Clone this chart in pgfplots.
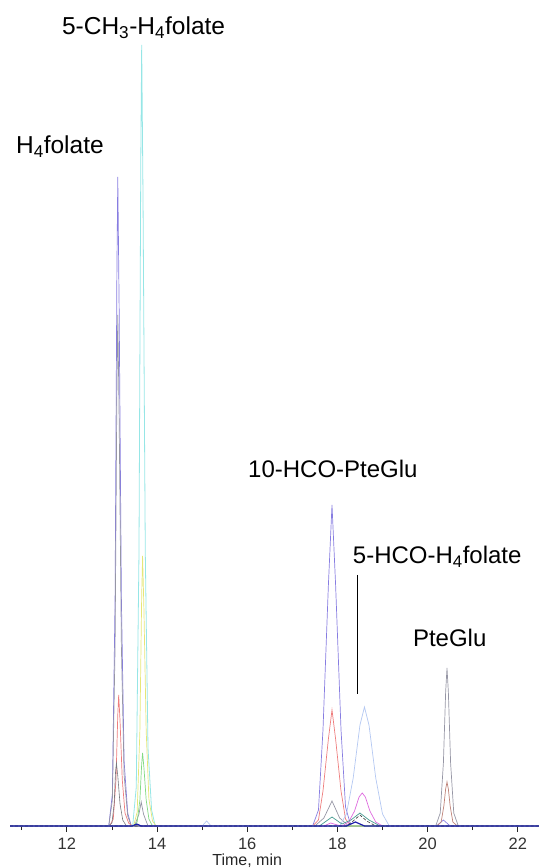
\documentclass[border=0pt]{standalone}
\usepackage{fontspec}
\setmainfont{Liberation Sans}
\usepackage{pgfplots}
\pgfplotsset{compat=1.18}
\definecolor{cviolet}{RGB}{135,125,225}
\definecolor{cgray}{RGB}{150,150,165}
\definecolor{cgray2}{RGB}{120,120,125}
\definecolor{cred}{RGB}{238,125,125}
\definecolor{cbrown}{RGB}{190,130,120}
\definecolor{ccyan}{RGB}{150,230,230}
\definecolor{cyellow}{RGB}{230,230,120}
\definecolor{cgreen}{RGB}{130,218,130}
\definecolor{clblue}{RGB}{180,200,242}
\definecolor{cmag}{RGB}{222,105,222}
\definecolor{cteal}{RGB}{70,155,145}
\definecolor{cdblue}{RGB}{30,30,170}
\definecolor{caxis}{RGB}{20,20,190}
\begin{document}
\begin{tikzpicture}
\useasboundingbox (0,0) rectangle (539bp,868bp);
\begin{axis}[
  at={(10bp,42bp)}, anchor=south west,
  scale only axis, width=529bp, height=826bp,
  xmin=10.74, xmax=22.47, ymin=0, ymax=826,
  axis y line=none, axis x line=bottom,
  x axis line style={draw=caxis, line width=0.9pt, -},
  xtick={12,14,16,18,20,22},
  minor xtick={11,13,15,17,19,21},
  tick align=outside,
  major tick length=6bp, minor tick length=4bp,
  every tick/.style={black!85, line width=0.7pt},
  xticklabel style={font=\fontsize{16.5bp}{16.5bp}\selectfont, text=black!80, anchor=base, yshift=-17bp},
  /pgf/number format/assume math mode=true,
  clip=false,
]
% violet: H4folate, 10-HCO-PteGlu
\addplot[cviolet, line width=0.7pt] coordinates {
(10.74,0) (12.93,0) (13.01,32) (13.07,227) (13.11,552) (13.13,649) (13.16,519) (13.21,227) (13.27,65) (13.35,13) (13.43,0)
(17.45,0) (17.58,16) (17.68,96) (17.80,241) (17.88,321) (17.96,241) (18.08,96) (18.18,19) (18.30,0)
(20.20,0) (20.35,6) (20.50,0) (22.47,0)};
% gray
\addplot[cgray, line width=0.7pt] coordinates {
(10.74,0) (12.93,0) (13.01,26) (13.07,179) (13.11,434) (13.13,511) (13.16,409) (13.21,179) (13.27,51) (13.35,10) (13.43,0)
(13.50,0) (13.60,12) (13.65,24) (13.70,12) (13.80,0)
(17.50,0) (17.70,8) (17.88,25) (18.05,8) (18.25,0)
(20.18,0) (20.28,13) (20.35,63) (20.40,134) (20.43,158) (20.46,134) (20.51,63) (20.58,13) (20.68,0) (22.47,0)};
% red
\addplot[cred, line width=0.7pt] coordinates {
(10.74,0) (12.95,0) (13.03,7) (13.09,46) (13.13,111) (13.15,131) (13.18,105) (13.23,46) (13.29,13) (13.37,3) (13.45,0)
(17.45,0) (17.58,6) (17.68,35) (17.80,87) (17.88,116) (17.96,87) (18.08,35) (18.18,7) (18.30,0) (22.47,0)};
% brown
\addplot[cbrown, line width=0.7pt] coordinates {
(10.74,0) (20.20,0) (20.30,4) (20.36,20) (20.40,37) (20.43,44) (20.46,37) (20.50,20) (20.56,4) (20.66,0) (22.47,0)};
% small gray
\addplot[cgray2, line width=0.6pt] coordinates {
(10.74,0) (12.92,0) (13.00,3) (13.05,22) (13.08,54) (13.10,63) (13.13,50) (13.18,22) (13.24,6) (13.32,0) (22.47,0)};
% cyan: 5-CH3-H4folate
\addplot[ccyan, line width=0.8pt] coordinates {
(10.74,0) (13.46,0) (13.54,39) (13.60,273) (13.64,664) (13.66,781) (13.69,625) (13.74,273) (13.80,78) (13.88,16) (13.96,0) (22.47,0)};
% yellow
\addplot[cyellow, line width=0.7pt] coordinates {
(10.74,0) (13.48,0) (13.56,14) (13.62,95) (13.66,230) (13.68,270) (13.71,216) (13.76,95) (13.82,27) (13.90,5) (13.98,0) (22.47,0)};
% green
\addplot[cgreen, line width=0.7pt] coordinates {
(10.74,0) (13.48,0) (13.56,4) (13.62,26) (13.66,62) (13.68,73) (13.71,58) (13.76,26) (13.82,7) (13.90,0) (22.47,0)};
% light blue: 5-HCO-H4folate
\addplot[clblue, line width=0.7pt] coordinates {
(10.74,0) (15.00,0) (15.10,5) (15.20,0)
(18.05,0) (18.20,12) (18.35,48) (18.50,101) (18.60,119) (18.70,101) (18.85,48) (19.00,12) (19.15,0) (22.47,0)};
% magenta
\addplot[cmag, line width=0.7pt] coordinates {
(10.74,0) (17.70,0) (17.85,3) (18.00,1) (18.10,0) (18.25,4) (18.38,15) (18.48,29) (18.55,33) (18.62,29) (18.72,15) (18.85,4) (19.00,0) (22.47,0)};
% teal
\addplot[cteal, line width=0.7pt] coordinates {
(10.74,0) (17.60,0) (17.88,9) (18.10,2) (18.30,6) (18.50,13) (18.70,6) (18.95,0) (22.47,0)};
% black
\addplot[black!80, line width=0.6pt, densely dashed] coordinates {
(10.74,0) (18.20,0) (18.35,5) (18.50,11) (18.65,5) (18.85,0) (22.47,0)};
% dark blue
\addplot[cdblue, line width=1.2pt] coordinates {
(10.74,0) (13.45,0) (13.55,2) (13.65,0) (18.20,0) (18.40,4) (18.60,0) (22.47,0)};
% labels
\node[anchor=base west, inner sep=0, font=\fontsize{24.5bp}{28bp}\selectfont] at (axis cs:10.87,672) {H\textsubscript{4}folate};
\node[anchor=base west, inner sep=0, font=\fontsize{24.5bp}{28bp}\selectfont] at (axis cs:11.89,791) {5-CH\textsubscript{3}-H\textsubscript{4}folate};
\node[anchor=base, inner sep=0, font=\fontsize{24bp}{28bp}\selectfont] at (axis cs:17.90,348) {10-HCO-PteGlu};
\node[anchor=base west, inner sep=0, font=\fontsize{24bp}{28bp}\selectfont] at (axis cs:18.34,262) {5-HCO-H\textsubscript{4}folate};
\node[anchor=base, inner sep=0, font=\fontsize{24bp}{28bp}\selectfont] at (axis cs:20.49,179) {PteGlu};
\draw[black, line width=1pt] (axis cs:18.45,251) -- (axis cs:18.45,132);
\node[anchor=base, inner sep=0, font=\fontsize{16bp}{16bp}\selectfont, text=black!85] at (axis cs:16,0) [yshift=-39bp] {Time, min};
\end{axis}
\end{tikzpicture}
\end{document}
